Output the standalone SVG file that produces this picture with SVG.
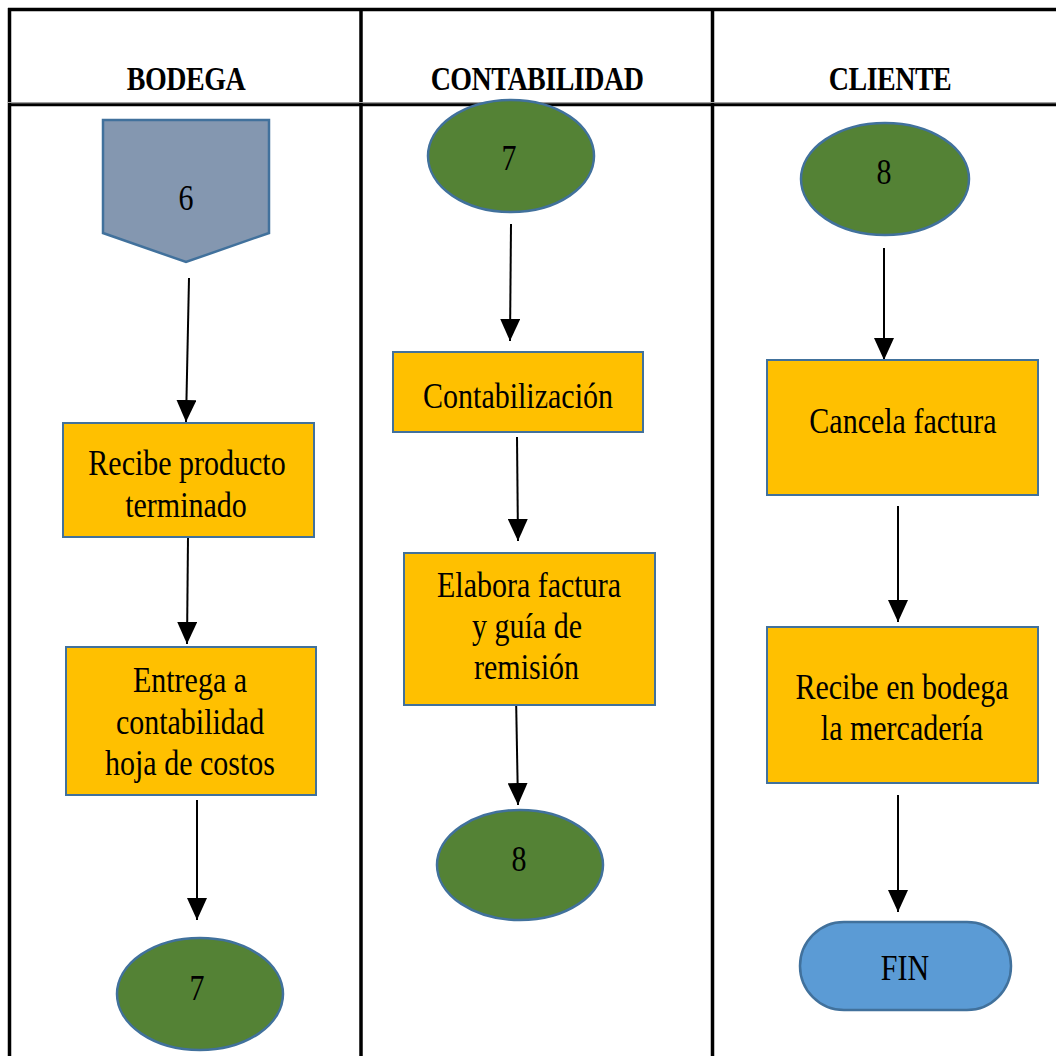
<svg xmlns="http://www.w3.org/2000/svg" width="1056" height="1056" viewBox="0 0 1056 1056">
<defs>
<marker id="ah" markerUnits="userSpaceOnUse" markerWidth="24" markerHeight="20" viewBox="0 0 24 20" refX="22" refY="10" orient="auto">
<path d="M0,0 L22,10 L0,20 Z" fill="#000"/>
</marker>
<style>
.grid{stroke:#000;stroke-width:3.5;fill:none}
.hdr{font-family:"Liberation Serif",serif;font-weight:bold;font-size:28px;fill:#000;text-anchor:middle;letter-spacing:-0.5px}
.t{font-family:"Liberation Serif",serif;font-size:30px;fill:#000;text-anchor:middle}
.box{fill:#FFC000;stroke:#41719C;stroke-width:2}
.ell{fill:#548235;stroke:#41719C;stroke-width:2.5}
.pent{fill:#8497B0;stroke:#41719C;stroke-width:2.5}
.term{fill:#5B9BD5;stroke:#41719C;stroke-width:2.5}
.c{stroke:#000;stroke-width:2;fill:none;marker-end:url(#ah)}
</style>
</defs>
<rect width="1056" height="1056" fill="#fff"/>
<g id="table">
<line x1="8" y1="9.5" x2="1056" y2="9.5" class="grid"/>
<line x1="9.5" y1="8" x2="9.5" y2="1056" class="grid"/>
<line x1="361" y1="8" x2="361" y2="1056" class="grid"/>
<line x1="712.5" y1="8" x2="712.5" y2="1056" class="grid"/>
<line x1="8" y1="102.5" x2="1056" y2="102.5" stroke="#a0a0a0" stroke-width="1"/>
<line x1="8" y1="104.8" x2="1056" y2="104.8" stroke="#000" stroke-width="3"/>
<text class="hdr" transform="translate(186,90) scale(1,1.2)">BODEGA</text>
<text class="hdr" transform="translate(537,90) scale(1,1.2)">CONTABILIDAD</text>
<text class="hdr" transform="translate(890,90) scale(1,1.2)">CLIENTE</text>
</g>
<g id="connectors">
<line class="c" x1="189" y1="278" x2="186" y2="422"/>
<line class="c" x1="188" y1="537" x2="187" y2="644"/>
<line class="c" x1="197" y1="800" x2="197" y2="920"/>
<line class="c" x1="511" y1="224" x2="510" y2="341"/>
<line class="c" x1="517" y1="437" x2="518" y2="541"/>
<line class="c" x1="516" y1="695" x2="518" y2="805"/>
<line class="c" x1="884" y1="248" x2="884" y2="360"/>
<line class="c" x1="898" y1="506" x2="898" y2="622"/>
<line class="c" x1="898" y1="795" x2="898" y2="912"/>
</g>
<g id="n6">
<path class="pent" d="M103,120 L269,120 L269,233 L186,262 L103,233 Z"/>
<text class="t" transform="translate(186,210) scale(1,1.2)">6</text>
</g>
<g id="n-recibe-producto">
<rect class="box" x="63" y="423" width="251" height="114"/>
<text class="t" transform="translate(187,475) scale(1,1.2)">Recibe producto</text>
<text class="t" transform="translate(186,516.5) scale(1,1.2)">terminado</text>
</g>
<g id="n-entrega">
<rect class="box" x="66" y="647" width="250" height="148"/>
<text class="t" transform="translate(190,692) scale(1,1.2)">Entrega a</text>
<text class="t" transform="translate(190,734) scale(1,1.2)">contabilidad</text>
<text class="t" transform="translate(190,775) scale(1,1.2)">hoja de costos</text>
</g>
<g id="n7a">
<ellipse class="ell" cx="200" cy="994" rx="83" ry="56"/>
<text class="t" transform="translate(197,1000) scale(1,1.2)">7</text>
</g>
<g id="n7b">
<ellipse class="ell" cx="511" cy="156" rx="83" ry="56"/>
<text class="t" transform="translate(509,170) scale(1,1.2)">7</text>
</g>
<g id="n-contabilizacion">
<rect class="box" x="393" y="352" width="250" height="80"/>
<text class="t" transform="translate(518,408) scale(1,1.2)">Contabilización</text>
</g>
<g id="n-elabora">
<rect class="box" x="404" y="553" width="251" height="152"/>
<text class="t" transform="translate(529,597) scale(1,1.2)">Elabora factura</text>
<text class="t" transform="translate(527,638) scale(1,1.2)">y guía de</text>
<text class="t" transform="translate(526.5,678.5) scale(1,1.2)">remisión</text>
</g>
<g id="n8b">
<ellipse class="ell" cx="520" cy="865" rx="83" ry="55"/>
<text class="t" transform="translate(519,871) scale(1,1.2)">8</text>
</g>
<g id="n8a">
<ellipse class="ell" cx="885" cy="179" rx="84" ry="56"/>
<text class="t" transform="translate(884,184) scale(1,1.2)">8</text>
</g>
<g id="n-cancela">
<rect class="box" x="767" y="360" width="271" height="135"/>
<text class="t" transform="translate(903,433) scale(1,1.2)">Cancela factura</text>
</g>
<g id="n-recibe-bodega">
<rect class="box" x="767" y="627" width="271" height="156"/>
<text class="t" transform="translate(902,699) scale(1,1.2)">Recibe en bodega</text>
<text class="t" transform="translate(902,740) scale(1,1.2)">la mercadería</text>
</g>
<g id="n-fin">
<rect class="term" x="800" y="922" width="211" height="88" rx="44" ry="44"/>
<text class="t" transform="translate(905,980) scale(1,1.2)">FIN</text>
</g>
</svg>
